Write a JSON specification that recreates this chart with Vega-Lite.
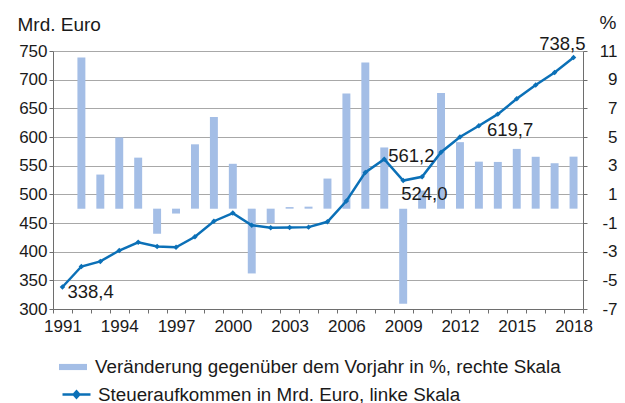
{
  "$schema": "https://vega.github.io/schema/vega-lite/v6.json",
  "autosize": {"type": "none"},
  "padding": {"left": 53, "top": 51, "right": 42, "bottom": 94},
  "width": 530,
  "height": 258,
  "background": "#ffffff",
  "config": {
    "view": {"stroke": null},
    "font": "Liberation Sans",
    "axis": {"labelFont": "Liberation Sans", "titleFont": "Liberation Sans", "labelFontSize": 17, "titleFontSize": 19, "labelColor": "#1a1a1a", "titleColor": "#1a1a1a", "titleFontWeight": "normal", "domainColor": "#6e6e6e", "tickColor": "#6e6e6e", "gridColor": "#a8a8a8"},
    "legend": {"labelFont": "Liberation Sans", "labelFontSize": 18.8, "labelColor": "#1a1a1a", "labelLimit": 600}
  },
  "data": {
    "values": [
      {"year": 1991, "revenue": 338.4, "change": null, "label": "338,4"},
      {"year": 1992, "revenue": 374.1, "change": 10.55, "label": ""},
      {"year": 1993, "revenue": 383.0, "change": 2.38, "label": ""},
      {"year": 1994, "revenue": 402.0, "change": 4.96, "label": ""},
      {"year": 1995, "revenue": 416.3, "change": 3.56, "label": ""},
      {"year": 1996, "revenue": 409.0, "change": -1.75, "label": ""},
      {"year": 1997, "revenue": 407.6, "change": -0.34, "label": ""},
      {"year": 1998, "revenue": 425.9, "change": 4.49, "label": ""},
      {"year": 1999, "revenue": 453.1, "change": 6.39, "label": ""},
      {"year": 2000, "revenue": 467.3, "change": 3.13, "label": ""},
      {"year": 2001, "revenue": 446.2, "change": -4.52, "label": ""},
      {"year": 2002, "revenue": 441.7, "change": -1.01, "label": ""},
      {"year": 2003, "revenue": 442.2, "change": 0.11, "label": ""},
      {"year": 2004, "revenue": 442.8, "change": 0.14, "label": ""},
      {"year": 2005, "revenue": 452.1, "change": 2.10, "label": ""},
      {"year": 2006, "revenue": 488.4, "change": 8.03, "label": ""},
      {"year": 2007, "revenue": 538.2, "change": 10.20, "label": ""},
      {"year": 2008, "revenue": 561.2, "change": 4.27, "label": "561,2"},
      {"year": 2009, "revenue": 524.0, "change": -6.63, "label": "524,0"},
      {"year": 2010, "revenue": 530.6, "change": 1.26, "label": ""},
      {"year": 2011, "revenue": 573.4, "change": 8.07, "label": ""},
      {"year": 2012, "revenue": 600.0, "change": 4.64, "label": ""},
      {"year": 2013, "revenue": 619.7, "change": 3.28, "label": "619,7"},
      {"year": 2014, "revenue": 639.9, "change": 3.26, "label": ""},
      {"year": 2015, "revenue": 666.6, "change": 4.17, "label": ""},
      {"year": 2016, "revenue": 690.7, "change": 3.62, "label": ""},
      {"year": 2017, "revenue": 712.6, "change": 3.17, "label": ""},
      {"year": 2018, "revenue": 738.5, "change": 3.63, "label": "738,5"}
    ]
  },
  "encoding": {
    "x": {
      "field": "year", "type": "ordinal",
      "scale": {"paddingInner": 0, "paddingOuter": 0},
      "axis": {"title": null, "labelAngle": 0, "tickBand": "extent", "tickSize": 4, "labelPadding": 5, "labelExpr": "(toNumber(datum.value) - 1991) % 3 == 0 ? datum.value : ''", "labelOverlap": false, "grid": false}
    }
  },
  "layer": [
    {
      "transform": [{"filter": "datum.change != null"}],
      "mark": {"type": "bar", "width": {"band": 0.42}},
      "encoding": {
        "y": {"field": "change", "type": "quantitative", "scale": {"domain": [-7, 11], "nice": false},
          "axis": {"orient": "right", "values": [-7, -5, -3, -1, 1, 3, 5, 7, 9, 11], "labelExpr": "toString(datum.value)", "grid": false, "tickSize": 4, "labelAlign": "right", "labelPadding": 30, "title": "%", "titleAngle": 0, "titleAlign": "left", "titleBaseline": "alphabetic", "titleX": 16, "titleY": -23}},
        "color": {"datum": "Veränderung gegenüber dem Vorjahr in %, rechte Skala", "type": "nominal",
          "scale": {"range": ["#a4bee6"]},
          "legend": {"title": null, "orient": "none", "legendX": 6, "legendY": 302, "symbolType": "M-1,-0.22H1V0.22H-1Z", "symbolSize": 784, "labelOffset": 8, "padding": 0, "symbolStrokeWidth": 0}}
      }
    },
    {
      "encoding": {
        "y": {"field": "revenue", "type": "quantitative", "scale": {"domain": [300, 750], "nice": false},
          "axis": {"orient": "left", "values": [300, 350, 400, 450, 500, 550, 600, 650, 700, 750], "grid": true, "tickSize": 4, "labelPadding": 2, "title": "Mrd. Euro", "titleAngle": 0, "titleAlign": "left", "titleBaseline": "alphabetic", "titleX": -36, "titleY": -21}}
      },
      "layer": [
        {
          "mark": {"type": "line", "strokeWidth": 2.5, "point": {"shape": "diamond", "size": 30, "filled": true}},
          "encoding": {
            "color": {"datum": "Steueraufkommen in Mrd. Euro, linke Skala", "type": "nominal",
              "scale": {"range": ["#0b70b7"]},
              "legend": {"title": null, "orient": "none", "legendX": 8, "legendY": 328, "symbolType": "M-1,0H1M0,-0.22L0.2,0L0,0.22L-0.2,0Z", "symbolSize": 784, "symbolStrokeWidth": 2.5, "symbolFillColor": "#0b70b7", "labelOffset": 6, "padding": 0}}
          }
        },
        {
          "transform": [{"filter": "datum.year == 1991"}],
          "mark": {"type": "text", "align": "left", "baseline": "middle", "dx": 5, "dy": 5, "fontSize": 18.5, "color": "#1a1a1a"},
          "encoding": {"text": {"field": "label"}}
        },
        {
          "transform": [{"filter": "datum.year == 2008"}],
          "mark": {"type": "text", "align": "left", "baseline": "middle", "dx": 4, "dy": -3, "fontSize": 18.5, "color": "#1a1a1a"},
          "encoding": {"text": {"field": "label"}}
        },
        {
          "transform": [{"filter": "datum.year == 2009"}],
          "mark": {"type": "text", "align": "left", "baseline": "middle", "dx": -2, "dy": 13, "fontSize": 18.5, "color": "#1a1a1a"},
          "encoding": {"text": {"field": "label"}}
        },
        {
          "transform": [{"filter": "datum.year == 2013"}],
          "mark": {"type": "text", "align": "left", "baseline": "middle", "dx": 8, "dy": 4, "fontSize": 18.5, "color": "#1a1a1a"},
          "encoding": {"text": {"field": "label"}}
        },
        {
          "transform": [{"filter": "datum.year == 2018"}],
          "mark": {"type": "text", "align": "right", "baseline": "middle", "dx": 12, "dy": -14, "fontSize": 18.5, "color": "#1a1a1a"},
          "encoding": {"text": {"field": "label"}}
        }
      ]
    }
  ],
  "resolve": {"scale": {"y": "independent", "color": "independent"}, "legend": {"color": "independent"}}
}
